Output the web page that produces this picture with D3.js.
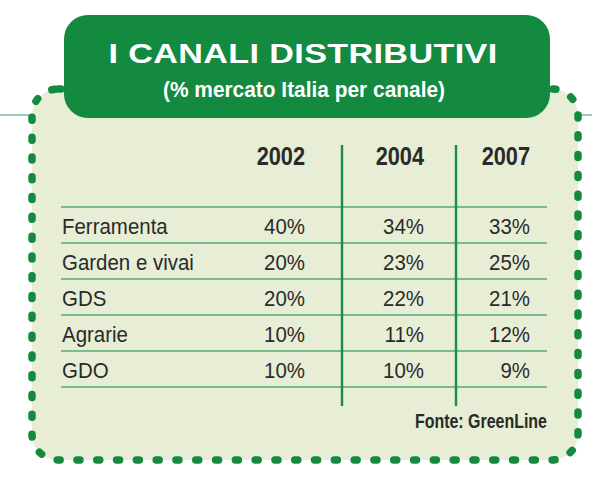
<!DOCTYPE html>
<html>
<head>
<meta charset="utf-8">
<script src="https://cdn.jsdelivr.net/npm/d3@7"></script>
<style>
  html, body { margin: 0; padding: 0; background: #ffffff; }
  svg { display: block; }
</style>
</head>
<body>
<svg id="chart"></svg>
<script>
// Table data
const years = ["2002", "2004", "2007"];
const channels = ["Ferramenta", "Garden e vivai", "GDS", "Agrarie", "GDO"];
const share2002 = [40, 20, 20, 10, 10];
const share2004 = [34, 23, 22, 11, 10];
const share2007 = [33, 25, 21, 12, 9];
const title = "I CANALI DISTRIBUTIVI";
const subtitle = "(% mercato Italia per canale)";
const source = "Fonte: GreenLine";

const width = 592, height = 480;
const green = "#138a3f";
const panelFill = "#e7eed5";
const textColor = "#2a2a2a";

const svg = d3.select("#chart")
    .attr("width", width)
    .attr("height", height);

// helper: text squeezed/stretched horizontally
function label(g, x, y, txt, opts) {
    return g.append("text")
        .attr("transform", `translate(${x},${y}) scale(${opts.sx || 1},1)`)
        .attr("text-anchor", opts.anchor || "start")
        .attr("font-family", "'Liberation Sans', Arial, sans-serif")
        .attr("font-size", opts.size)
        .attr("font-weight", opts.weight || "normal")
        .attr("fill", opts.fill || textColor)
        .attr("letter-spacing", opts.ls || 0)
        .text(txt);
}

// thin rule behind the panel
svg.append("line")
    .attr("x1", 0).attr("x2", width)
    .attr("y1", 115).attr("y2", 115)
    .attr("stroke", "#3f9a66")
    .attr("stroke-width", 1);

// dotted panel
svg.append("rect")
    .attr("x", 32).attr("y", 89)
    .attr("width", 546).attr("height", 371)
    .attr("rx", 26)
    .attr("fill", panelFill)
    .attr("stroke", green)
    .attr("stroke-width", 7.5)
    .attr("stroke-linecap", "round")
    .attr("stroke-dasharray", "3 16.8");

// title box
svg.append("rect")
    .attr("x", 64).attr("y", 15)
    .attr("width", 486).attr("height", 103)
    .attr("rx", 24)
    .attr("fill", green);

label(svg, 303, 63, title, { size: 28, weight: "bold", fill: "#ffffff", anchor: "middle", sx: 1.22, ls: 0.3 });
label(svg, 304, 97, subtitle, { size: 22, weight: "bold", fill: "#ffffff", anchor: "middle", sx: 0.95 });

// scales
const table = channels.map((c, i) => ({
    channel: c,
    values: [share2002[i], share2004[i], share2007[i]]
}));

const y = d3.scaleBand()
    .domain(channels)
    .range([207, 387]);

const xRight = d3.scaleOrdinal()
    .domain(years)
    .range([305, 424, 530]);

const g = svg.append("g");

// row rules
const rules = [y.range()[0]].concat(channels.map(c => y(c) + y.bandwidth()));
g.selectAll(".rule")
    .data(rules)
    .enter()
    .append("line")
    .attr("class", "rule")
    .attr("x1", 61).attr("x2", 547)
    .attr("y1", d => d).attr("y2", d => d)
    .attr("stroke", "#56a872")
    .attr("stroke-width", 1.6);

// column separators
g.selectAll(".sep")
    .data([342, 456])
    .enter()
    .append("line")
    .attr("class", "sep")
    .attr("x1", d => d).attr("x2", d => d)
    .attr("y1", 145).attr("y2", 406)
    .attr("stroke", "#1a8a45")
    .attr("stroke-width", 2.4);

// header
years.forEach(yr => {
    label(g, xRight(yr), 165, yr, { size: 25, weight: "bold", anchor: "end", sx: 0.87 });
});

// rows
table.forEach(row => {
    const base = y(row.channel) + y.bandwidth() / 2 + 9;
    label(g, 62, base, row.channel, { size: 22, anchor: "start", sx: 0.93 });
    row.values.forEach((v, j) => {
        label(g, xRight(years[j]), base, v + "%", { size: 22, anchor: "end", sx: 0.93 });
    });
});

// source
label(g, 547, 428, source, { size: 21, weight: "bold", anchor: "end", sx: 0.76 });
</script>
</body>
</html>
